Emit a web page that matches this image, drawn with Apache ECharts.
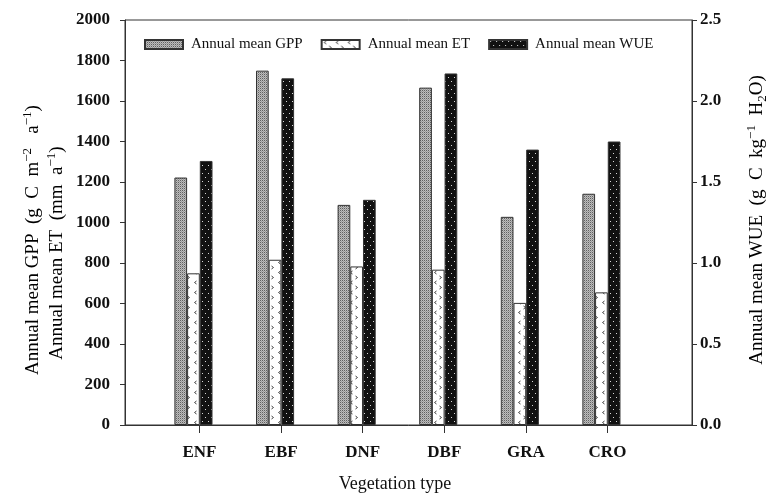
<!DOCTYPE html>
<html><head><meta charset="utf-8">
<script src="https://cdn.jsdelivr.net/npm/echarts@6/dist/echarts.min.js"></script>
<style>html,body{margin:0;padding:0;background:#fff}#c{width:768px;height:498px}</style>
</head><body><div id="c"></div>
<script>
// ---- data ----
const categories = ['ENF', 'EBF', 'DNF', 'DBF', 'GRA', 'CRO'];
const gppValues = [1222, 1750, 1087, 1666, 1028, 1142];   // g C m-2 a-1 (left axis)
const etValues  = [749, 816, 783, 767, 603, 655];          // mm a-1 (left axis)
const wueValues = [1.63, 2.14, 1.39, 2.17, 1.70, 1.75];    // g C kg-1 H2O (right axis)
const seriesNames = ['Annual mean GPP', 'Annual mean ET', 'Annual mean WUE'];

// ---- style helpers ----
const FONT = 'Liberation Serif, Times New Roman, serif';
const TICK_SHIFT = 0.074; // category ticks sit slightly right of the bar group centre

function makePattern(w, h, draw) {
  const c = document.createElement('canvas');
  c.width = w; c.height = h;
  const ctx = c.getContext('2d');
  draw(ctx);
  return { image: c, repeat: 'repeat' };
}
const gppPattern = makePattern(2, 2, ctx => {
  ctx.fillStyle = '#bdbdbd'; ctx.fillRect(0, 0, 2, 2);
  ctx.fillStyle = '#606060'; ctx.fillRect(0, 0, 1, 1);
  ctx.fillStyle = '#9a9a9a'; ctx.fillRect(1, 1, 1, 1);
});
const wuePattern = makePattern(6, 8, ctx => {
  ctx.fillStyle = '#111'; ctx.fillRect(0, 0, 6, 8);
  ctx.fillStyle = '#d8d8d8'; ctx.fillRect(1, 1, 1, 1); ctx.fillRect(4, 5, 1, 1);
});
const etPattern = makePattern(12, 10, ctx => {
  ctx.fillStyle = '#fff'; ctx.fillRect(0, 0, 12, 10);
  ctx.strokeStyle = '#444'; ctx.lineWidth = 1;
  ctx.beginPath(); ctx.moveTo(4.5, 1); ctx.lineTo(2.5, 2.5); ctx.lineTo(4.5, 4); ctx.stroke();
  ctx.beginPath(); ctx.moveTo(7.5, 6); ctx.lineTo(9.5, 7.5); ctx.lineTo(7.5, 9); ctx.stroke();
});

const tickPos = categories.map((c, i) => i + 1 + TICK_SHIFT);
const toPairs = arr => arr.map((v, i) => [i + 1, v]);

const chart = echarts.init(document.getElementById('c'), null, { renderer: 'canvas' });
const axisColor = '#333';
const labelStyle = { fontFamily: FONT, fontWeight: 'bold', fontSize: 17, color: '#111' };

chart.setOption({
  animation: false,
  backgroundColor: '#fff',
  grid: { left: 125, top: 20, width: 567, height: 405, show: true, borderColor: axisColor, borderWidth: 1 },
  legend: {
    left: 144, top: 37, padding: 0, itemWidth: 38, itemHeight: 9, itemGap: 18, icon: 'rect',
    textStyle: { fontFamily: FONT, fontSize: 15, color: '#111', padding: [0, 0, 0, 3] },
    data: seriesNames
  },
  xAxis: {
    type: 'value', min: 0.161, max: 7.11,
    splitLine: { show: false },
    axisLine: { show: true, lineStyle: { color: axisColor } },
    axisTick: { show: true, length: 8, customValues: tickPos, lineStyle: { color: axisColor } },
    axisLabel: Object.assign({ customValues: tickPos, margin: 19,
      formatter: v => categories[Math.round(v - TICK_SHIFT) - 1] || '' }, labelStyle)
  },
  yAxis: [
    {
      type: 'value', min: 0, max: 2000, interval: 200, position: 'left',
      splitLine: { show: false },
      axisLine: { show: true, lineStyle: { color: axisColor } },
      axisTick: { show: true, length: 5, lineStyle: { color: axisColor } },
      axisLabel: Object.assign({ margin: 15, formatter: v => String(v) }, labelStyle)
    },
    {
      type: 'value', min: 0, max: 2.5, interval: 0.5, position: 'right',
      splitLine: { show: false },
      axisLine: { show: true, lineStyle: { color: axisColor } },
      axisTick: { show: true, length: 5, lineStyle: { color: axisColor } },
      axisLabel: Object.assign({ margin: 8, formatter: v => v.toFixed(1) }, labelStyle)
    }
  ],
  series: [
    { name: seriesNames[0], type: 'bar', yAxisIndex: 0, barWidth: 12.7, barGap: '0%',
      itemStyle: { color: gppPattern, borderColor: '#333', borderWidth: 1 }, data: toPairs(gppValues) },
    { name: seriesNames[1], type: 'bar', yAxisIndex: 0, barWidth: 12.7, barGap: '0%',
      itemStyle: { color: etPattern, borderColor: '#333', borderWidth: 1 }, data: toPairs(etValues) },
    { name: seriesNames[2], type: 'bar', yAxisIndex: 1, barWidth: 12.7, barGap: '0%',
      itemStyle: { color: wuePattern, borderColor: '#333', borderWidth: 1 }, data: toPairs(wueValues) }
  ],
  graphic: [
    { type: 'text', x: 33, y: 240, rotation: Math.PI / 2,
      style: { text: '{t|Annual mean GPP  (g  C  m}{s|−2}{t|   a}{s|−1}{t|)}', align: 'center', verticalAlign: 'middle',
        rich: { t: { fontFamily: FONT, fontSize: 19, color: '#111', lineHeight: 24 },
                s: { fontFamily: FONT, fontSize: 13, color: '#111', verticalAlign: 'top' } } } },
    { type: 'text', x: 57, y: 253, rotation: Math.PI / 2,
      style: { text: '{t|Annual mean ET  (mm  a}{s|−1}{t|)}', align: 'center', verticalAlign: 'middle',
        rich: { t: { fontFamily: FONT, fontSize: 19, color: '#111', lineHeight: 24 },
                s: { fontFamily: FONT, fontSize: 13, color: '#111', verticalAlign: 'top' } } } },
    { type: 'text', x: 757, y: 220, rotation: Math.PI / 2,
      style: { text: '{t|Annual mean WUE  (g  C  kg}{s|−1}{t|  H}{b|2}{t|O)}', align: 'center', verticalAlign: 'middle',
        rich: { t: { fontFamily: FONT, fontSize: 19, color: '#111', lineHeight: 24 },
                s: { fontFamily: FONT, fontSize: 13, color: '#111', verticalAlign: 'top' },
                b: { fontFamily: FONT, fontSize: 13, color: '#111', verticalAlign: 'bottom' } } } },
    { type: 'text', x: 395, y: 484,
      style: { text: 'Vegetation type', align: 'center', verticalAlign: 'middle',
        font: '18px ' + FONT, fill: '#111' } }
  ]
});
</script>
</body></html>
